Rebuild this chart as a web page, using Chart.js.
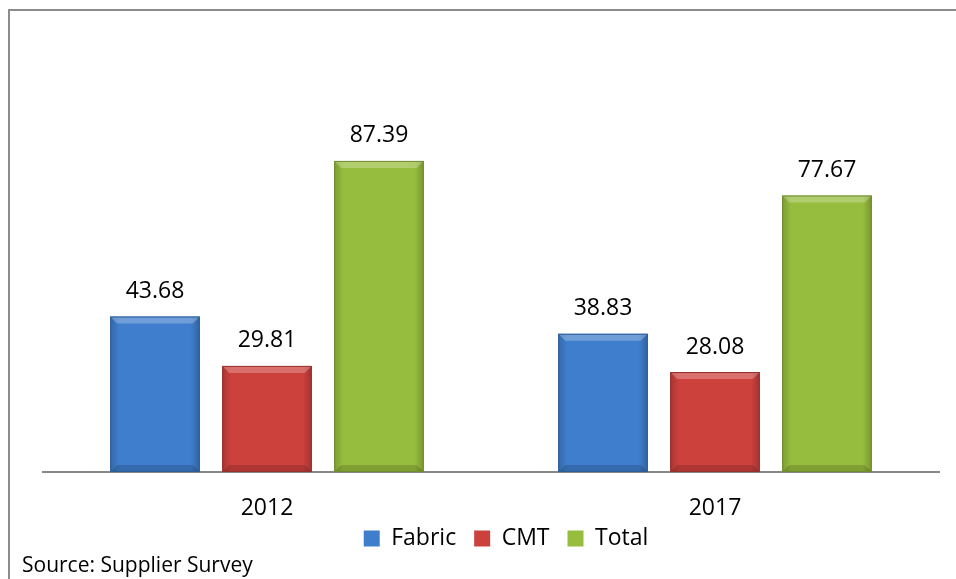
<!DOCTYPE html>
<html>
<head>
<meta charset="utf-8">
<script src="https://cdn.jsdelivr.net/npm/chart.js@4/dist/chart.umd.min.js"></script>
<style>
  html, body { margin: 0; padding: 0; background: #fff; }
  #wrap { width: 956px; height: 579px; position: relative; }
</style>
</head>
<body>
<div id="wrap"><canvas id="chart" width="956" height="579"></canvas></div>
<script>
// data
const years = ['2012', '2017'];
const fabric = [43.68, 38.83];
const cmt = [29.81, 28.08];
const total = [87.39, 77.67];
const sourceNote = 'Source: Supplier Survey';

const FONT = "'Open Sans', 'Liberation Sans', sans-serif";

// bevel look on top of the plain bars
const bevelPlugin = {
    id: 'bevel',
    afterDatasetsDraw(chart) {
        const ctx = chart.ctx;
        chart.data.datasets.forEach((ds, i) => {
            const meta = chart.getDatasetMeta(i);
            meta.data.forEach(bar => {
                const l = bar.x - bar.width / 2, r = bar.x + bar.width / 2;
                const t = bar.y, b = bar.base;
                const bv = 7;
                ctx.save();
                // side shading
                const g = ctx.createLinearGradient(l, 0, r, 0);
                g.addColorStop(0, 'rgba(0,0,0,0.18)');
                g.addColorStop(0.1, 'rgba(0,0,0,0.0)');
                g.addColorStop(0.9, 'rgba(0,0,0,0.0)');
                g.addColorStop(1, 'rgba(0,0,0,0.22)');
                ctx.fillStyle = g;
                ctx.fillRect(l, t, r - l, b - t);
                // top bevel
                ctx.fillStyle = 'rgba(255,255,255,0.25)';
                ctx.beginPath();
                ctx.moveTo(l, t); ctx.lineTo(r, t);
                ctx.lineTo(r - bv, t + bv); ctx.lineTo(l + bv, t + bv);
                ctx.closePath(); ctx.fill();
                // bottom darker
                ctx.fillStyle = 'rgba(0,0,0,0.15)';
                ctx.beginPath();
                ctx.moveTo(l, b); ctx.lineTo(r, b);
                ctx.lineTo(r - bv, b - bv); ctx.lineTo(l + bv, b - bv);
                ctx.closePath(); ctx.fill();
                // outline
                ctx.strokeStyle = ds.borderColor;
                ctx.lineWidth = 1;
                ctx.strokeRect(l + 0.5, t + 0.5, r - l - 1, b - t - 1);
                ctx.restore();
            });
        });
    }
};

// values above bars
const valueLabels = {
    id: 'valueLabels',
    afterDatasetsDraw(chart) {
        const ctx = chart.ctx;
        ctx.save();
        ctx.font = '23px ' + FONT;
        ctx.fillStyle = '#000';
        ctx.textAlign = 'center';
        ctx.textBaseline = 'middle';
        chart.data.datasets.forEach((ds, i) => {
            chart.getDatasetMeta(i).data.forEach((bar, j) => {
                ctx.fillText(ds.data[j].toFixed(2), bar.x, bar.y - 25);
            });
        });
        ctx.restore();
    }
};

// frame lines, source note, legend nudge
const framePlugin = {
    id: 'frame',
    afterLayout(chart) {
        chart.legend.left += 15;
        chart.legend.right += 15;
        chart.legend.top -= 19;
        chart.legend.bottom -= 19;
    },
    afterDraw(chart) {
        const ctx = chart.ctx;
        ctx.save();
        ctx.strokeStyle = '#8c8c8c';
        ctx.lineWidth = 2;
        ctx.beginPath();
        ctx.moveTo(956, 10);
        ctx.lineTo(9, 10);
        ctx.lineTo(9, 579);
        ctx.stroke();
        ctx.font = '21px ' + FONT;
        ctx.fillStyle = '#000';
        ctx.textBaseline = 'middle';
        ctx.fillText(sourceNote, 22, 566);
        ctx.restore();
    }
};

new Chart(document.getElementById('chart'), {
    type: 'bar',
    data: {
        labels: years,
        datasets: [
            { label: 'Fabric', data: fabric, backgroundColor: '#3f7ecc', borderColor: '#2b5c9a' },
            { label: 'CMT', data: cmt, backgroundColor: '#cd413d', borderColor: '#96302c' },
            { label: 'Total', data: total, backgroundColor: '#97bd3e', borderColor: '#6e8c2b' }
        ]
    },
    options: {
        responsive: false,
        animation: false,
        layout: { padding: { top: 116, left: 43, right: 17, bottom: 0 } },
        categoryPercentage: 0.75,
        barPercentage: 0.8,
        scales: {
            x: {
                grid: { display: false },
                border: { display: true, color: '#888', width: 2 },
                ticks: { color: '#000', padding: 15, font: { size: 23, family: FONT } },
                afterFit(scale) { scale.height = 56; }
            },
            y: { display: false, min: 0, max: 100 }
        },
        plugins: {
            legend: {
                position: 'bottom',
                labels: {
                    boxWidth: 16, boxHeight: 16, padding: 18,
                    color: '#000', font: { size: 23, family: FONT }
                }
            },
            tooltip: { enabled: false }
        }
    },
    plugins: [bevelPlugin, valueLabels, framePlugin]
});
</script>
</body>
</html>
